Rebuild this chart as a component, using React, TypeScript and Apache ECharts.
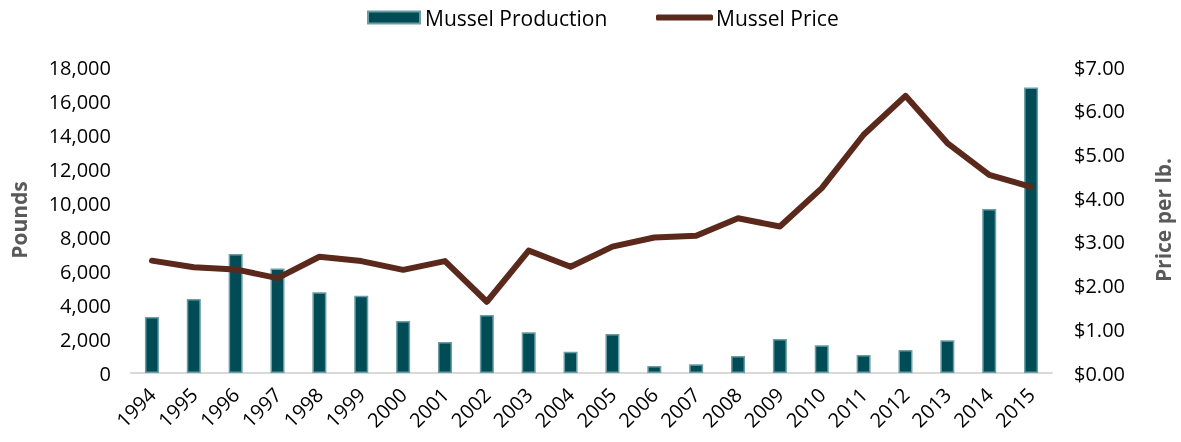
import React, { useEffect, useRef } from "react";
import * as echarts from "echarts";

const years = ["1994","1995","1996","1997","1998","1999","2000","2001","2002","2003","2004","2005","2006","2007","2008","2009","2010","2011","2012","2013","2014","2015"];
const production = [3300,4350,7000,6150,4750,4550,3060,1820,3410,2390,1250,2290,410,510,1000,2000,1630,1060,1350,1920,9650,16800];
const price = [2.57,2.42,2.37,2.17,2.66,2.56,2.36,2.56,1.63,2.80,2.43,2.89,3.10,3.14,3.54,3.35,4.23,5.45,6.34,5.26,4.53,4.26];
const leftTicks = { min: 0, max: 18000, interval: 2000 };
const rightTicks = { min: 0, max: 7, interval: 1 };

const FONT = "'Open Sans', 'Noto Sans', sans-serif";

export default function App() {
  const ref = useRef<HTMLDivElement>(null);
  useEffect(() => {
    if (!ref.current) return;
    const chart = echarts.init(ref.current, null, { renderer: "svg" });
    chart.setOption({
      animation: false,
      textStyle: { fontFamily: FONT },
      legend: [
        {
          top: 2,
          left: 362,
          itemWidth: 52,
          itemHeight: 12,
          icon: "rect",
          textStyle: { fontSize: 21, color: "#000", fontFamily: FONT },
          data: ["Mussel Production"],
        },
        {
          top: 2,
          left: 651,
          itemWidth: 57,
          itemHeight: 6,
          icon: "roundRect",
          textStyle: { fontSize: 21, color: "#000", fontFamily: FONT, padding: [0, 0, 0, -2] },
          data: ["Mussel Price"],
        },
      ],
      grid: { left: 131, right: 128, top: 67, bottom: 69, containLabel: false },
      xAxis: {
        type: "category",
        data: years,
        axisLine: { lineStyle: { color: "#d9d9d9", width: 2 } },
        axisTick: { show: false },
        axisLabel: { rotate: 45, interval: 0, fontSize: 20, color: "#000", margin: 18, fontFamily: FONT },
      },
      yAxis: [
        {
          type: "value",
          min: leftTicks.min,
          max: leftTicks.max,
          interval: leftTicks.interval,
          name: "Pounds",
          nameLocation: "middle",
          nameGap: 102,
          nameTextStyle: { fontSize: 21, fontWeight: "bold", color: "#595959", fontFamily: FONT },
          splitLine: { show: false },
          axisLine: { show: false },
          axisTick: { show: false },
          axisLabel: {
            fontSize: 20,
            color: "#000",
            margin: 20,
            fontFamily: FONT,
            formatter: (v: number) => v.toLocaleString("en-US"),
          },
        },
        {
          type: "value",
          min: rightTicks.min,
          max: rightTicks.max,
          interval: rightTicks.interval,
          name: "Price per lb.",
          nameLocation: "middle",
          nameGap: 100,
          nameTextStyle: { fontSize: 21, fontWeight: "bold", color: "#595959", fontFamily: FONT },
          splitLine: { show: false },
          axisLine: { show: false },
          axisTick: { show: false },
          axisLabel: {
            fontSize: 20,
            color: "#000",
            margin: 22,
            fontFamily: FONT,
            formatter: (v: number) => "$" + v.toFixed(2),
          },
        },
      ],
      series: [
        {
          name: "Mussel Production",
          type: "bar",
          data: production,
          barWidth: 14,
          itemStyle: { color: "#004c56", borderColor: "#6a9ea4", borderWidth: 1.5 },
        },
        {
          name: "Mussel Price",
          type: "line",
          yAxisIndex: 1,
          data: price,
          symbol: "none",
          lineStyle: { color: "#5b281c", width: 6, cap: "round", join: "round" },
          itemStyle: { color: "#5b281c" },
        },
      ],
    });
    return () => chart.dispose();
  }, []);
  return (
    <div
      ref={ref}
      style={{ position: "fixed", left: 0, top: 0, width: 1181, height: 442 }}
    />
  );
}
